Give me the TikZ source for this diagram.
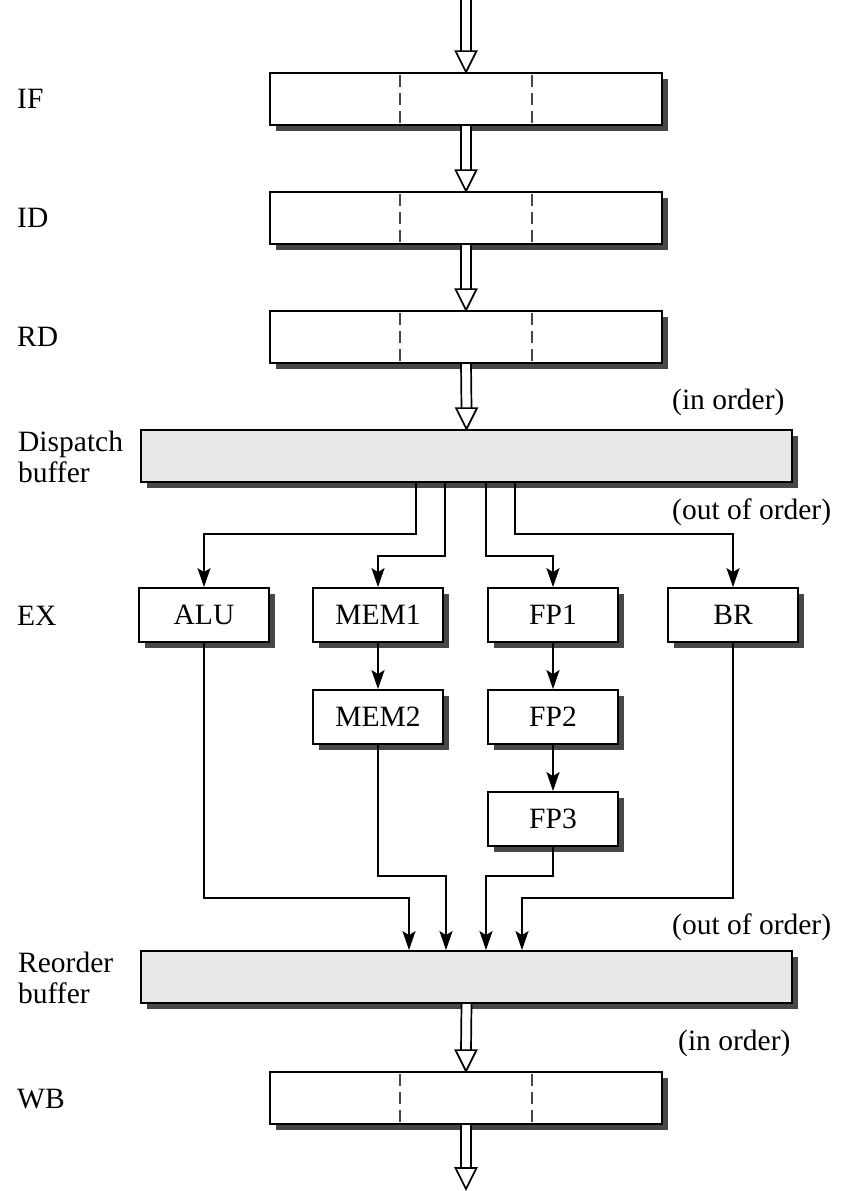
\documentclass[tikz,border=0pt]{standalone}
\usepackage{fontspec}
\setmainfont{Liberation Serif}
\usetikzlibrary{arrows.meta,calc,positioning,shadows}

\tikzset{
  box/.style={draw, line width=1.8bp, fill=white, inner sep=0pt,
    drop shadow={shadow xshift=6bp, shadow yshift=-6bp, fill=black!72, opacity=1}},
  stage/.style={box, minimum width=392bp, minimum height=52bp},
  buf/.style={box, fill=black!9, minimum width=651bp, minimum height=52bp},
  unit/.style={box, minimum width=130bp, minimum height=54bp},
  lbl/.style={anchor=west, inner sep=0pt, align=left},
  link/.style={line width=1.8bp, -{Stealth[length=19bp,width=13bp,inset=4bp]}},
  divider/.style={line width=1.8bp, black!72, dash pattern=on 12bp off 6bp, dash phase=-3bp},
}

% hollow double arrow between two points
\newcommand{\fatarrow}[2]{%
  \path (#1) coordinate (fa) (#2) coordinate (fb);
  \fill[white] ($(fa)+(-5,0)$) rectangle ($(fb)+(5,-21)$);
  \draw[line width=1.7bp] ($(fa)+(-5,0)$) -- ($(fb)+(-5,-21)$)
    ($(fa)+(5,0)$) -- ($(fb)+(5,-21)$);
  \draw[line width=1.7bp, fill=white, line join=miter]
    ($(fb)+(-10.5,-21)$) -- (fb) -- ($(fb)+(10.5,-21)$) -- cycle;
}

\begin{document}
\begin{tikzpicture}[x=1bp, y=-1bp, font=\fontsize{29.5bp}{31bp}\selectfont]
\useasboundingbox (0,0) rectangle (848,1191);

% pipeline stages
\node[stage] (if) at (466,99) {};
\node[stage] (id) at (466,218) {};
\node[stage] (rd) at (466,337) {};
\node[buf] (disp) at (466.5,456) {};
\node[unit] (alu) at (204,615) {ALU};
\node[unit] (mem1) at (378,615) {MEM1};
\node[unit] (fp1) at (553,615) {FP1};
\node[unit] (br) at (733,615) {BR};
\node[unit] (mem2) at (378,717) {MEM2};
\node[unit] (fp2) at (553,717) {FP2};
\node[unit] (fp3) at (553,819) {FP3};
\node[buf] (rob) at (466.5,977) {};
\node[stage] (wb) at (466,1098) {};

\foreach \s in {if,id,rd,wb} {
  \draw[divider] ($(\s.north west)!1/3!(\s.north east)$) -- ($(\s.south west)!1/3!(\s.south east)$);
  \draw[divider] ($(\s.north west)!2/3!(\s.north east)$) -- ($(\s.south west)!2/3!(\s.south east)$);
}

% labels
\node[lbl] (lif) at (17,99) {IF};
\node[lbl] (lid) at (17,218) {ID};
\node[lbl] (lrd) at (17,337) {RD};
\node[lbl] (ldisp) at (18,457) {Dispatch\\buffer};
\node[lbl] (lex) at (17,616) {EX};
\node[lbl] (lrob) at (18,978) {Reorder\\buffer};
\node[lbl] (lwb) at (17,1099) {WB};
\node[lbl] (ord1) at (672,402) {(in order)};
\node[lbl] (ord2) at (672,512) {(out of order)};
\node[lbl] (ord3) at (672,927) {(out of order)};
\node[lbl] (ord4) at (678,1043) {(in order)};

% in-order flow
\coordinate (in) at (466,0);
\coordinate (out) at (466,1189);
\fatarrow{in}{if.north}
\fatarrow{if.south}{id.north}
\fatarrow{id.south}{rd.north}
\fatarrow{rd.south}{disp.north}
\fatarrow{rob.south}{wb.north}
\fatarrow{wb.south}{out}

% issue
\draw[link] ($(disp.south)+(-50.5,0)$) -- ++(0,51) -| (alu.north);
\draw[link] ($(disp.south)+(-21.5,0)$) -- ++(0,73) -| (mem1.north);
\draw[link] ($(disp.south)+(19.5,0)$) -- ++(0,73) -| (fp1.north);
\draw[link] ($(disp.south)+(48.5,0)$) -- ++(0,51) -| (br.north);
\draw[link] (mem1.south) -- (mem2.north);
\draw[link] (fp1.south) -- (fp2.north);
\draw[link] (fp2.south) -- (fp3.north);

% completion
\draw[link] (alu.south) -- ++(0,255) -| ($(rob.north)+(-57.5,0)$);
\draw[link] (mem2.south) -- ++(0,131) -| ($(rob.north)+(-20.5,0)$);
\draw[link] (fp3.south) -- ++(0,29) -| ($(rob.north)+(19.5,0)$);
\draw[link] (br.south) -- ++(0,255) -| ($(rob.north)+(55.5,0)$);
\end{tikzpicture}
\end{document}
